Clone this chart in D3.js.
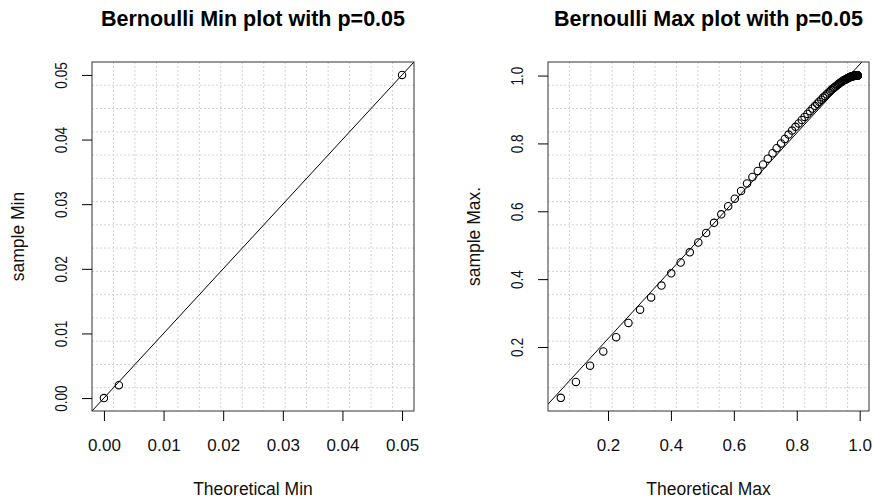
<!DOCTYPE html>
<html>
<head>
<meta charset="utf-8">
<script src="https://cdn.jsdelivr.net/npm/d3@7"></script>
<style>
  body { margin: 0; background: #fff; }
  svg { display: block; font-family: "Liberation Sans", Arial, sans-serif; }
</style>
</head>
<body>
<svg id="chart" width="873" height="500"></svg>
<script>
// values
const minTheo   = [0, 0.0025, 0.05];
const minSample = [0, 0.002, 0.05];
const minTicks  = [0, 0.01, 0.02, 0.03, 0.04, 0.05];

const maxTheo = [
  0.050, 0.098, 0.143, 0.185, 0.226, 0.265, 0.302, 0.337, 0.370, 0.401,
  0.431, 0.460, 0.487, 0.512, 0.537, 0.560, 0.582, 0.603, 0.623, 0.642,
  0.659, 0.676, 0.693, 0.708, 0.723, 0.736, 0.750, 0.762, 0.774, 0.785,
  0.796, 0.806, 0.816, 0.825, 0.834, 0.842, 0.850, 0.858, 0.865, 0.871,
  0.878, 0.884, 0.890, 0.895, 0.901, 0.906, 0.910, 0.915, 0.919, 0.923,
  0.927, 0.931, 0.934, 0.937, 0.940, 0.943, 0.946, 0.949, 0.952, 0.954,
  0.956, 0.958, 0.960, 0.962, 0.964, 0.966, 0.968, 0.969, 0.971, 0.972,
  0.974, 0.975, 0.976, 0.978, 0.979, 0.980, 0.981, 0.982, 0.983, 0.983,
  0.984, 0.985, 0.986, 0.987, 0.987, 0.988, 0.988, 0.989, 0.990, 0.990,
  0.991, 0.991, 0.992, 0.992, 0.992, 0.993, 0.993, 0.993, 0.994, 0.994
];
const maxSample = [
  0.050, 0.097, 0.145, 0.187, 0.229, 0.271, 0.310, 0.346, 0.381, 0.417,
  0.449, 0.479, 0.508, 0.536, 0.566, 0.591, 0.615, 0.637, 0.660, 0.682,
  0.701, 0.719, 0.738, 0.755, 0.771, 0.786, 0.800, 0.813, 0.826, 0.838,
  0.849, 0.859, 0.869, 0.878, 0.887, 0.895, 0.903, 0.910, 0.917, 0.923,
  0.929, 0.935, 0.940, 0.945, 0.950, 0.954, 0.958, 0.962, 0.965, 0.968,
  0.971, 0.974, 0.976, 0.978, 0.980, 0.982, 0.984, 0.986, 0.987, 0.988,
  0.989, 0.990, 0.991, 0.992, 0.993, 0.994, 0.995, 0.996, 0.996, 0.997,
  0.997, 0.998, 0.998, 0.998, 0.999, 0.999, 0.999, 0.999, 1.000, 1.000,
  1.000, 1.000, 1.000, 1.000, 1.000, 1.000, 1.000, 1.000, 1.000, 1.000,
  1.000, 1.000, 1.000, 1.000, 1.000, 1.000, 1.000, 1.000, 1.000, 1.000
];
const maxTicks = [0.2, 0.4, 0.6, 0.8, 1.0];

// reference lines: y = a + b*x
const minLine = { a: 0, b: 1 };
const maxLine = { a: 0.022, b: 1.011 };

const svg = d3.select("#chart");

function panel(opt) {
  const { left, right, top, bottom } = opt.box;

  const x = d3.scaleLinear().domain(opt.xDomain).range([left, right]);
  const y = d3.scaleLinear().domain(opt.yDomain).range([bottom, top]);

  const g = svg.append("g");

  // grid: 15 equal divisions of the plot region (like grid(15, 15))
  const xd = x.domain(), yd = y.domain();
  const gx = d3.range(1, 15).map(i => xd[0] + i * (xd[1] - xd[0]) / 15);
  const gy = d3.range(1, 15).map(i => yd[0] + i * (yd[1] - yd[0]) / 15);

  g.selectAll(".vgrid").data(gx).join("line")
    .attr("x1", d => x(d)).attr("x2", d => x(d))
    .attr("y1", top).attr("y2", bottom)
    .attr("stroke", "#d3d3d3").attr("stroke-dasharray", "2,2");
  g.selectAll(".hgrid").data(gy).join("line")
    .attr("y1", d => y(d)).attr("y2", d => y(d))
    .attr("x1", left).attr("x2", right)
    .attr("stroke", "#d3d3d3").attr("stroke-dasharray", "2,2");

  // clip for the line
  const clipId = "clip" + opt.id;
  svg.append("clipPath").attr("id", clipId)
    .append("rect")
    .attr("x", left).attr("y", top)
    .attr("width", right - left).attr("height", bottom - top);

  g.append("line")
    .attr("clip-path", `url(#${clipId})`)
    .attr("x1", x(xd[0])).attr("y1", y(opt.line.a + opt.line.b * xd[0]))
    .attr("x2", x(xd[1])).attr("y2", y(opt.line.a + opt.line.b * xd[1]))
    .attr("stroke", "#000").attr("stroke-width", 1);

  // points
  const pts = opt.xs.map((v, i) => [v, opt.ys[i]]);
  g.selectAll(".pt").data(pts).join("circle")
    .attr("cx", d => x(d[0])).attr("cy", d => y(d[1]))
    .attr("r", 3.7)
    .attr("fill", "none").attr("stroke", "#000").attr("stroke-width", 1.1);

  // box
  g.append("rect")
    .attr("x", left).attr("y", top)
    .attr("width", right - left).attr("height", bottom - top)
    .attr("fill", "none").attr("stroke", "#333").attr("stroke-width", 1);

  // axes
  const xAxis = d3.axisBottom(x).tickValues(opt.ticks)
    .tickFormat(d3.format(opt.fmt)).tickSize(10).tickPadding(18);
  const ax = g.append("g").attr("transform", `translate(0,${bottom})`).call(xAxis);
  ax.select(".domain").remove();
  ax.selectAll("line").attr("stroke", "#000");
  ax.selectAll("text").attr("font-size", 17).attr("fill", "#111");

  const yAxis = d3.axisLeft(y).tickValues(opt.ticks)
    .tickFormat(d3.format(opt.fmt)).tickSize(10);
  const ay = g.append("g").attr("transform", `translate(${left},0)`).call(yAxis);
  ay.select(".domain").remove();
  ay.selectAll("line").attr("stroke", "#000");
  ay.selectAll("text")
    .attr("x", null).attr("dy", null)
    .attr("text-anchor", "middle")
    .attr("font-size", 17).attr("fill", "#111")
    .attr("transform", "translate(-25.5,0) rotate(-90) scale(0.8,1)");
  ax.attr("font-family", null);
  ay.attr("font-family", null);

  const cx = (left + right) / 2, cy = (top + bottom) / 2;

  // title
  svg.append("text")
    .attr("x", cx).attr("y", 26)
    .attr("text-anchor", "middle")
    .attr("font-weight", "bold").attr("font-size", 21.5)
    .text(opt.title);

  // axis titles
  svg.append("text")
    .attr("x", cx).attr("y", 495)
    .attr("text-anchor", "middle").attr("font-size", 17.5)
    .attr("fill", "#111")
    .text(opt.xLabel);

  svg.append("text")
    .attr("transform", `translate(${opt.yLabelX},${cy}) rotate(-90)`)
    .attr("text-anchor", "middle").attr("font-size", 17.5)
    .attr("fill", "#111")
    .text(opt.yLabel);
}

panel({
  id: "min",
  box: { left: 92, right: 414, top: 62, bottom: 411 },
  xDomain: [-0.002, 0.052],
  yDomain: [-0.002, 0.052],
  xs: minTheo, ys: minSample,
  line: minLine,
  ticks: minTicks, fmt: ".2f",
  title: "Bernoulli Min plot with p=0.05",
  xLabel: "Theoretical Min",
  yLabel: "sample Min",
  yLabelX: 24
});

panel({
  id: "max",
  box: { left: 548, right: 869, top: 62, bottom: 411 },
  xDomain: [0.0093, 1.0296],
  yDomain: [0.0113, 1.040],
  xs: maxTheo, ys: maxSample,
  line: maxLine,
  ticks: maxTicks, fmt: ".1f",
  title: "Bernoulli Max plot with p=0.05",
  xLabel: "Theoretical Max",
  yLabel: "sample Max.",
  yLabelX: 480
});
</script>
</body>
</html>
